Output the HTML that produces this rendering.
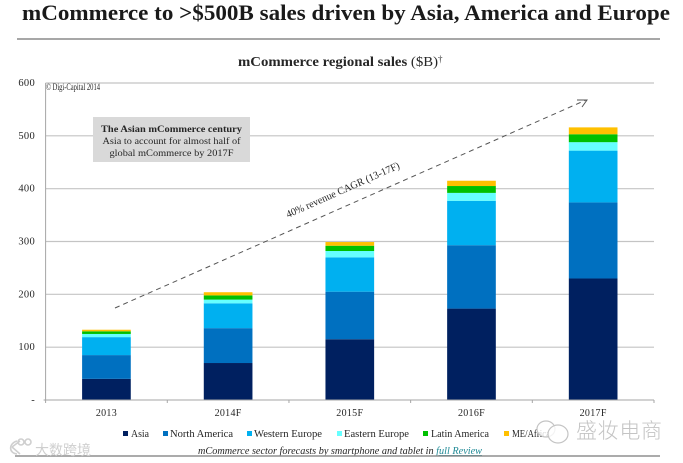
<!DOCTYPE html>
<html lang="en">
<head>
<meta charset="utf-8">
<title>mCommerce regional sales</title>
<style>
html,body{margin:0;padding:0;background:#fff;width:683px;height:463px;overflow:hidden}
svg{display:block;filter:blur(0.35px)}
text{font-family:"Liberation Serif","DejaVu Serif",serif;fill:#262626}
</style>
</head>
<body>
<svg id="chart" width="683" height="463" viewBox="0 0 683 463" xmlns="http://www.w3.org/2000/svg">
  <rect width="683" height="463" fill="#fff"/>
  <text x="22" y="20" font-size="22" font-weight="700" textLength="648" lengthAdjust="spacingAndGlyphs" style="fill:#1a1a1a">mCommerce to &gt;$500B sales driven by Asia, America and Europe</text>
  <line x1="17" y1="39" x2="660" y2="39" stroke="#8a8a8a" stroke-width="1.6"/>
  <text x="238" y="66" font-size="14" font-weight="700" textLength="200" lengthAdjust="spacingAndGlyphs">mCommerce regional sales <tspan font-weight="400">($B)</tspan></text>
  <text x="438" y="62" font-size="9">†</text>
  <g id="grid"></g>
  <g id="bars"></g>
  <g id="axes"></g>
  <text x="46" y="90" font-size="9.5" textLength="54" lengthAdjust="spacingAndGlyphs">© Digi-Capital 2014</text>
  <g>
    <rect x="93" y="117" width="157" height="45" fill="#d9d9d9"/>
    <text x="171.500" y="132" text-anchor="middle" font-size="9.500" font-weight="700" textLength="141" lengthAdjust="spacingAndGlyphs">The Asian mCommerce century</text>
    <text x="171.500" y="144" text-anchor="middle" font-size="9.500" textLength="138" lengthAdjust="spacingAndGlyphs">Asia to account for almost half of</text>
    <text x="171.500" y="156" text-anchor="middle" font-size="9.500" textLength="124" lengthAdjust="spacingAndGlyphs">global mCommerce by 2017F</text>
  </g>
  <g fill="none" stroke="#555" stroke-width="1">
    <line x1="115" y1="308" x2="586" y2="100" stroke-dasharray="5 4"/>
    <path d="M577 100 L587 100 L582 107"/>
  </g>
  <text transform="translate(288 218) rotate(-24)" font-size="10.500" textLength="123" lengthAdjust="spacingAndGlyphs">40% revenue CAGR (13-17F)</text>
  <g font-size="10">
    <rect x="123" y="431" width="5" height="5" fill="#002060"/>
    <text x="131" y="437" textLength="18" lengthAdjust="spacingAndGlyphs">Asia</text>
    <rect x="163" y="431" width="5" height="5" fill="#0070c0"/>
    <text x="170" y="437" textLength="63" lengthAdjust="spacingAndGlyphs">North America</text>
    <rect x="247" y="431" width="5" height="5" fill="#00b0f0"/>
    <text x="254" y="437" textLength="68" lengthAdjust="spacingAndGlyphs">Western Europe</text>
    <rect x="337" y="431" width="5" height="5" fill="#66ffff"/>
    <text x="344" y="437" textLength="65" lengthAdjust="spacingAndGlyphs">Eastern Europe</text>
    <rect x="423" y="431" width="5" height="5" fill="#00c000"/>
    <text x="431" y="437" textLength="58" lengthAdjust="spacingAndGlyphs">Latin America</text>
    <rect x="504" y="431" width="5" height="5" fill="#ffc000"/>
    <text x="512" y="437" textLength="38" lengthAdjust="spacingAndGlyphs">ME/Africa</text>
  </g>
  <text x="198" y="454" font-size="10" font-style="italic" textLength="284" lengthAdjust="spacingAndGlyphs">mCommerce sector forecasts by smartphone and tablet in <tspan text-decoration="underline" style="fill:#1f8a96">full Review</tspan></text>
  <line x1="15" y1="456" x2="660" y2="456" stroke="#8f8f8f" stroke-width="1.6"/>
  <g fill="#fff" fill-opacity="0.8" stroke="#c4c4c4" stroke-width="1.2">
    <ellipse cx="546" cy="429" rx="9" ry="8"/>
    <ellipse cx="558" cy="434" rx="10" ry="9"/>
  </g>
  <text x="576" y="438" font-size="21" textLength="86" lengthAdjust="spacing" style="fill:#c4c4c4;font-family:'Noto Sans CJK SC','Liberation Sans',sans-serif;font-weight:300">盛妆电商</text>
  <g fill="none" stroke="#cfcfcf" stroke-width="1.6">
    <path d="M17 441 C9 443 8 453 17 454"/>
    <path d="M12 447 L20 441 M12 447 L20 454"/>
    <circle cx="21" cy="442" r="3"/>
    <circle cx="28" cy="442" r="3"/>
  </g>
  <text x="35" y="455" font-size="14" textLength="56" lengthAdjust="spacing" style="fill:#cfcfcf;font-family:'Noto Sans CJK SC','Liberation Sans',sans-serif">大数跨境</text>
</svg>
<script>
const categories = ['2013', '2014F', '2015F', '2016F', '2017F'];
const asia = [40, 70, 115, 173, 230];
const northAmerica = [45, 66, 90, 120, 144];
const westernEurope = [34, 47, 65, 84, 98];
const easternEurope = [6, 7, 12, 15, 16];
const latinAmerica = [5, 8, 10, 13, 15];
const meAfrica = [3, 6, 7, 10, 13];
const yTicks = [0, 100, 200, 300, 400, 500, 600];
const yTickLabels = ['-', '100', '200', '300', '400', '500', '600'];

const seriesValues = [asia, northAmerica, westernEurope, easternEurope, latinAmerica, meAfrica];
const seriesColors = ['#002060', '#0070c0', '#00b0f0', '#66ffff', '#00c000', '#ffc000'];
const NS = 'http://www.w3.org/2000/svg';
const plot = { left: 45.6, right: 654, top: 83, bottom: 400, max: 600 };
const yScale = v => plot.bottom - (v / plot.max) * (plot.bottom - plot.top);
const band = (plot.right - plot.left) / categories.length;
const xCenter = i => plot.left + band * (i + 0.5);
const barWidth = band * 0.4;

function make(tag, attrs, parent, text) {
  const el = document.createElementNS(NS, tag);
  for (const k in attrs) el.setAttribute(k, attrs[k]);
  if (text !== undefined) el.textContent = text;
  parent.appendChild(el);
  return el;
}

const gridG = document.getElementById('grid');
const barsG = document.getElementById('bars');
const axesG = document.getElementById('axes');

yTicks.forEach((t, i) => {
  if (t !== 0) {
    const g = make('line', { x1: plot.left, x2: plot.right, y1: yScale(t), y2: yScale(t), stroke: '#c4c4c4', 'stroke-width': 1.2 }, gridG);
    
    
  }
  const lab = make('text', { x: 35, y: yScale(t) + 3, 'text-anchor': 'end', 'font-size': 10.5, 'letter-spacing': 0.3 }, axesG, yTickLabels[i]);
  
  
});

categories.forEach((c, i) => {
  let acc = 0;
  seriesValues.forEach((vals, s) => {
    const y0 = yScale(acc);
    const y1 = yScale(acc + vals[i]);
    acc += vals[i];
    const r = make('rect', { x: xCenter(i) - barWidth / 2, y: y1, width: barWidth, height: y0 - y1, fill: seriesColors[s] }, barsG);
    
    
  });
  const lab = make('text', { x: xCenter(i), y: 416, 'text-anchor': 'middle', 'font-size': 10, 'letter-spacing': 0.3 }, axesG, c);
  
  
});

const yAxis = make('line', { x1: plot.left, x2: plot.left, y1: plot.top, y2: plot.bottom, stroke: '#a6a6a6', 'stroke-width': 1 }, axesG);


const xAxis = make('line', { x1: plot.left - 2, x2: plot.right, y1: plot.bottom, y2: plot.bottom, stroke: '#a6a6a6', 'stroke-width': 1 }, axesG);


for (let i = 0; i <= categories.length; i++) {
  const tick = make('line', { x1: plot.left + band * i, x2: plot.left + band * i, y1: plot.bottom, y2: plot.bottom + 3, stroke: '#a6a6a6', 'stroke-width': 1 }, axesG);
  
  
}
</script>
</body>
</html>
